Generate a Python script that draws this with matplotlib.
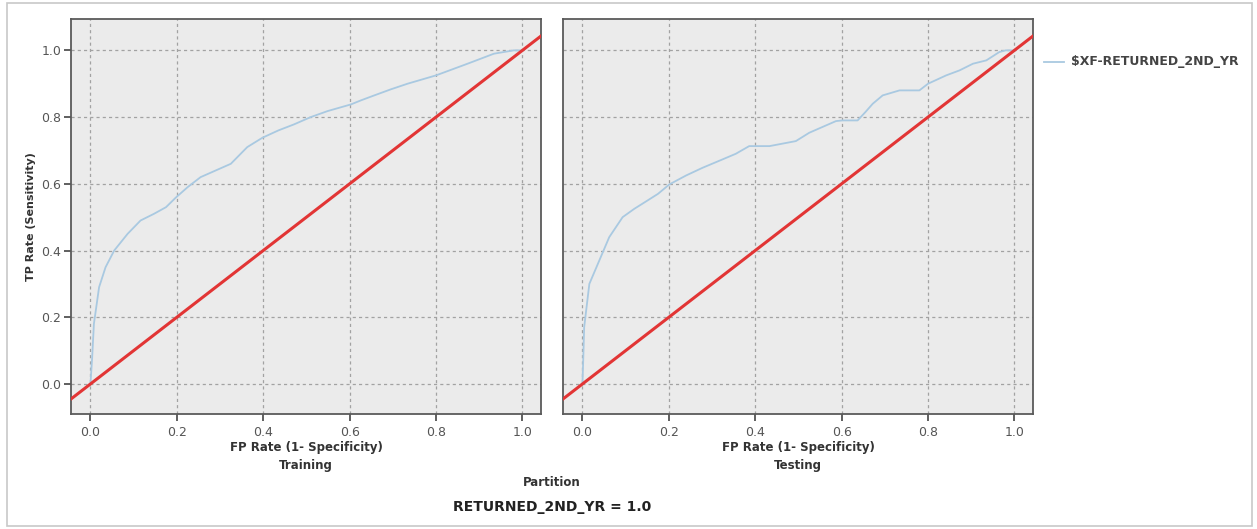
import matplotlib
matplotlib.use("Agg")
import matplotlib.pyplot as plt
from matplotlib.patches import Rectangle
from matplotlib.lines import Line2D

plt.rcParams['font.family'] = ['DejaVu Sans']

# ROC curve points for each partition (FP rate, TP rate)
train_fpr = [0.0, 0.004, 0.008, 0.02, 0.035, 0.055, 0.086, 0.116, 0.147, 0.175, 0.197,
             0.225, 0.255, 0.29, 0.325, 0.363, 0.398, 0.435, 0.471, 0.51, 0.549,
             0.603, 0.626, 0.657, 0.695, 0.734, 0.8, 0.873, 0.934, 0.98, 1.0]
train_tpr = [0.0, 0.08, 0.18, 0.29, 0.35, 0.40, 0.45, 0.49, 0.51, 0.53, 0.558,
             0.59, 0.62, 0.64, 0.66, 0.71, 0.738, 0.76, 0.778, 0.80, 0.818,
             0.838, 0.85, 0.865, 0.883, 0.90, 0.925, 0.96, 0.99, 1.0, 1.0]

test_fpr = [0.0, 0.002, 0.004, 0.016, 0.039, 0.062, 0.093, 0.12, 0.147, 0.175, 0.201,
            0.24, 0.278, 0.324, 0.355, 0.386, 0.433, 0.494, 0.525, 0.555, 0.587,
            0.602, 0.637, 0.655, 0.672, 0.695, 0.734, 0.78, 0.80, 0.842, 0.873,
            0.904, 0.935, 0.965, 0.98, 1.0]
test_tpr = [0.0, 0.08, 0.17, 0.30, 0.37, 0.44, 0.50, 0.525, 0.547, 0.57, 0.598,
            0.625, 0.648, 0.673, 0.69, 0.713, 0.713, 0.728, 0.753, 0.77, 0.788,
            0.79, 0.79, 0.815, 0.84, 0.865, 0.88, 0.88, 0.90, 0.925, 0.94,
            0.96, 0.97, 0.995, 1.0, 1.0]

partitions = ["Training", "Testing"]
curves = [(train_fpr, train_tpr), (test_fpr, test_tpr)]
ticks = [0.0, 0.2, 0.4, 0.6, 0.8, 1.0]
tick_labels = ["0.0", "0.2", "0.4", "0.6", "0.8", "1.0"]
series_name = "$XF-RETURNED_2ND_YR"
xlabel = "FP Rate (1- Specificity)"
ylabel = "TP Rate (Sensitivity)"
facet_title = "Partition"
footer = "RETURNED_2ND_YR = 1.0"

W, H = 1257, 529
fig = plt.figure(figsize=(W / 100, H / 100), dpi=100)

curve_color = "#a9c9e1"
diag_color = "#e23535"
bg = "#ebebeb"

# outer frame
fig.patches.append(Rectangle((7 / W, 1 - 526 / H), 1245 / W, 523 / H,
                             transform=fig.transFigure, fill=False,
                             edgecolor="#c8c8c8", linewidth=1.2))

panel_left = [71, 563]
panel_w = 470
top, bottom = 19, 414
xlim = (-0.045, 1.043)
ylim = (-0.09, 1.094)

for i, (name, (fx, ty)) in enumerate(zip(partitions, curves)):
    ax = fig.add_axes([panel_left[i] / W, 1 - bottom / H, panel_w / W, (bottom - top) / H])
    ax.set_facecolor(bg)
    ax.set_xlim(*xlim)
    ax.set_ylim(*ylim)
    ax.set_xticks(ticks)
    ax.set_xticklabels(tick_labels)
    ax.set_yticks(ticks)
    ax.grid(True, color="#a2a2a2", linestyle=(0, (2.5, 2.5)), linewidth=0.9)
    ax.set_axisbelow(True)
    ax.plot(fx, ty, color=curve_color, linewidth=1.3, zorder=3)
    ax.plot([xlim[0] - 0.1, xlim[1] + 0.1], [xlim[0] - 0.1, xlim[1] + 0.1],
            color=diag_color, linewidth=2.2, zorder=4)
    for s in ax.spines.values():
        s.set_color("#5a5a5a")
        s.set_linewidth(1.3)
    ax.tick_params(axis="x", direction="out", length=5, width=1.2, color="#444444",
                   labelsize=9, labelcolor="#555555", pad=4)
    if i == 0:
        ax.set_yticklabels(tick_labels)
        ax.tick_params(axis="y", direction="out", length=5, width=1.2, color="#444444",
                       labelsize=9, labelcolor="#555555", pad=2)
        ax.set_ylabel(ylabel, fontsize=8, fontweight="bold", color="#333333", labelpad=4)
    else:
        ax.tick_params(axis="y", length=0, labelleft=False)
    ax.set_xlabel(xlabel + "\n" + name, fontsize=8.5, fontweight="bold", color="#333333",
                  labelpad=1, linespacing=1.5)

fig.text(552 / W, 1 - 482 / H, facet_title, ha="center", va="center",
         fontsize=8.5, fontweight="bold", color="#333333")
fig.text(552 / W, 1 - 507 / H, footer, ha="center", va="center",
         fontsize=10, fontweight="bold", color="#222222")

# legend
fig.add_artist(Line2D([1044 / W, 1064 / W], [1 - 62 / H, 1 - 62 / H],
                      transform=fig.transFigure, color=curve_color, linewidth=1.3))
fig.text(1071 / W, 1 - 62 / H, series_name, ha="left", va="center",
         fontsize=9, fontweight="bold", color="#444444")

fig.savefig("out.png", dpi=100, facecolor="white")
